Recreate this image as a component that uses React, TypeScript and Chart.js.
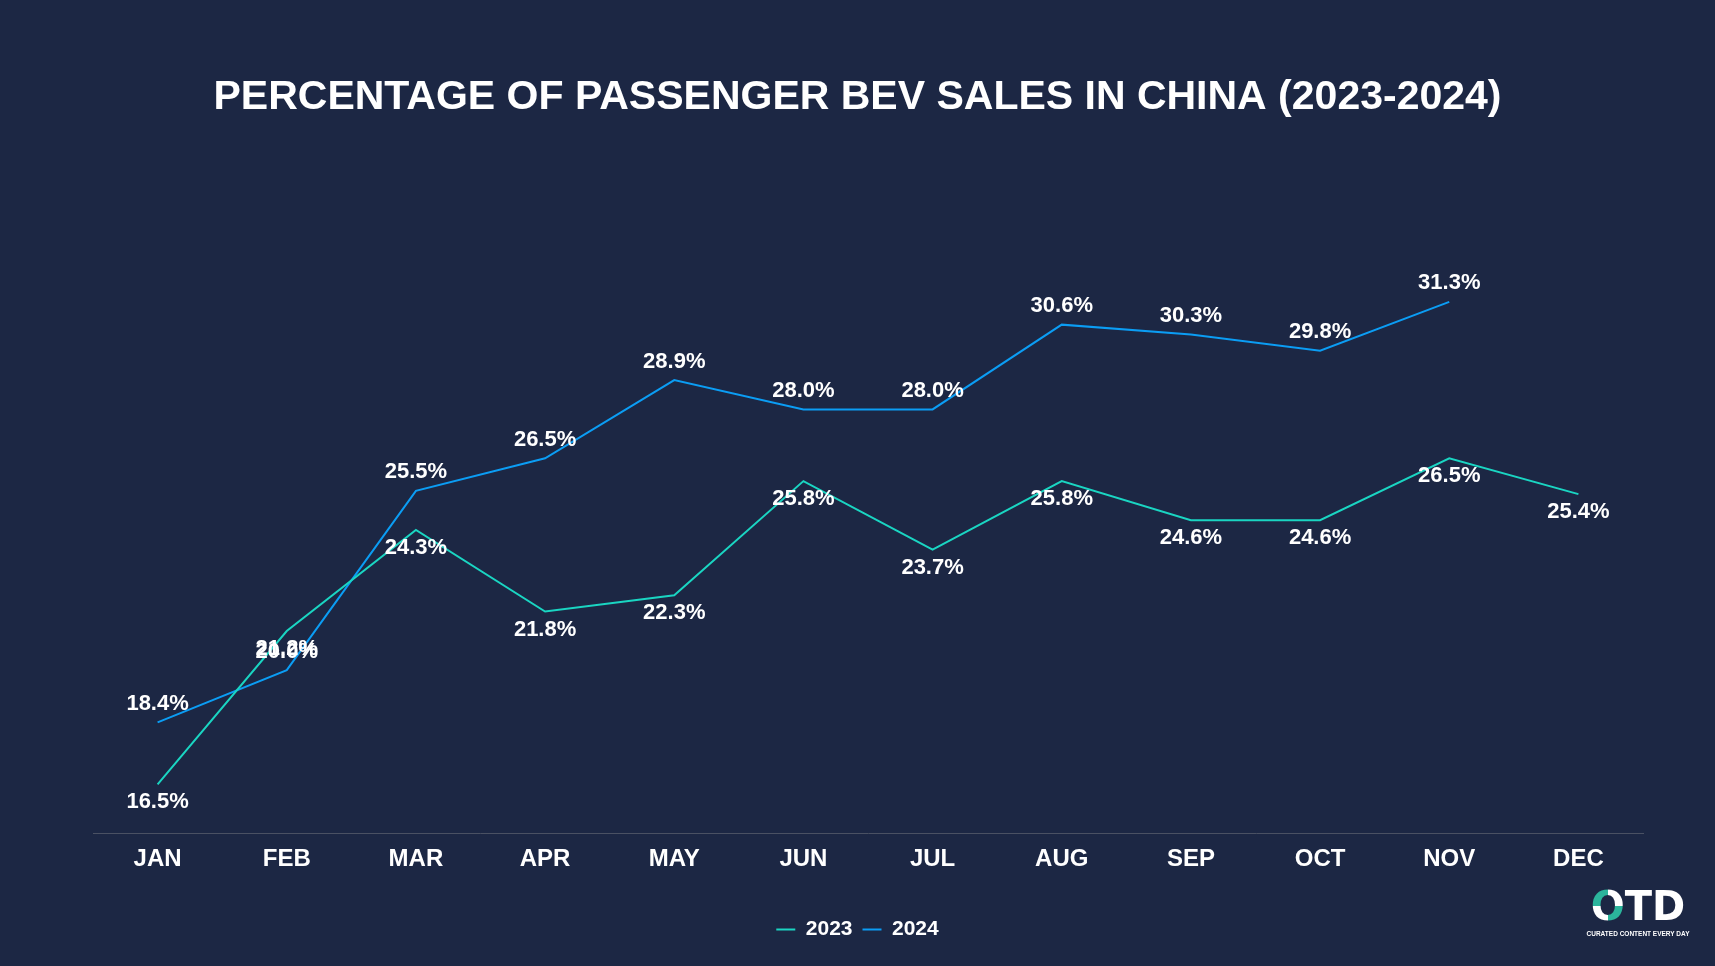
import { useEffect, useRef } from "react";
import { Chart, registerables } from "chart.js";

Chart.register(...registerables);

const months = ["JAN", "FEB", "MAR", "APR", "MAY", "JUN", "JUL", "AUG", "SEP", "OCT", "NOV", "DEC"];
const share2023 = [16.5, 21.2, 24.3, 21.8, 22.3, 25.8, 23.7, 25.8, 24.6, 24.6, 26.5, 25.4];
const share2024 = [18.4, 20.0, 25.5, 26.5, 28.9, 28.0, 28.0, 30.6, 30.3, 29.8, 31.3, null];

const BG = "#1c2744";
const FONT = "'Liberation Sans', Arial, sans-serif";

// draws the value labels: 2023 under its points, 2024 above
const valueLabels = {
  id: "valueLabels",
  afterDatasetsDraw(chart: any) {
    const ctx = chart.ctx;
    ctx.save();
    ctx.font = `bold 22px ${FONT}`;
    ctx.fillStyle = "#ffffff";
    ctx.textAlign = "center";
    ctx.textBaseline = "middle";
    chart.data.datasets.forEach((ds: any, i: number) => {
      const meta = chart.getDatasetMeta(i);
      const off = i === 0 ? 18 : -18.5;
      meta.data.forEach((pt: any, j: number) => {
        const v = ds.data[j];
        if (v === null || v === undefined) return;
        ctx.fillText(v.toFixed(1) + "%", pt.x, pt.y + off);
      });
    });
    ctx.restore();
  },
};

const App = () => {
  const canvasRef = useRef<HTMLCanvasElement | null>(null);

  useEffect(() => {
    if (!canvasRef.current) return;
    const ctx = canvasRef.current.getContext("2d");
    if (!ctx) return;

    const chart = new Chart(ctx, {
      type: "line",
      data: {
        labels: months,
        datasets: [
          {
            label: "2023",
            data: share2023,
            borderColor: "#1ad5c2",
            backgroundColor: "#1ad5c2",
            borderWidth: 2,
            pointRadius: 0,
            tension: 0,
          },
          {
            label: "2024",
            data: share2024,
            borderColor: "#0b9df4",
            backgroundColor: "#0b9df4",
            borderWidth: 2,
            pointRadius: 0,
            tension: 0,
          },
        ],
      },
      options: {
        animation: false,
        responsive: true,
        maintainAspectRatio: false,
        layout: { padding: { top: 0, left: 0, right: 0, bottom: 16 } },
        plugins: {
          title: {
            display: true,
            text: "PERCENTAGE OF PASSENGER BEV SALES IN CHINA (2023-2024)",
            color: "#ffffff",
            font: { family: FONT, size: 41, weight: "bold" },
            padding: { top: 73, bottom: 59 },
          },
          legend: {
            position: "bottom",
            labels: {
              color: "#ffffff",
              font: { family: FONT, size: 21, weight: "bold" },
              usePointStyle: true,
              pointStyle: "line",
              pointStyleWidth: 19,
              padding: 10,
            },
          },
          tooltip: { enabled: false },
        },
        scales: {
          x: {
            offset: true,
            grid: { display: false, drawTicks: false },
            border: { display: true, color: "#4a5163", width: 1 },
            ticks: {
              color: "#ffffff",
              padding: 12,
              font: { family: FONT, size: 24, weight: "bold" },
            },
            afterFit: (s: any) => {
              s.height += 23;
            },
          },
          y: {
            min: 15,
            max: 35,
            grid: { display: false, drawTicks: false },
            border: { display: false },
            ticks: { display: false },
            afterFit: (s: any) => {
              s.width = 93;
            },
          },
          y2: {
            position: "right",
            min: 15,
            max: 35,
            grid: { display: false, drawTicks: false },
            border: { display: false },
            ticks: { display: false },
            afterFit: (s: any) => {
              s.width = 72;
            },
          },
        },
      },
      plugins: [valueLabels],
    });

    return () => {
      chart.destroy();
    };
  }, []);

  return (
    <div style={{ position: "fixed", inset: 0, background: BG, fontFamily: FONT }}>
      <canvas ref={canvasRef}></canvas>
      <div
        style={{
          position: "absolute",
          left: 1584,
          top: 886,
          width: 108,
          textAlign: "center",
          color: "#ffffff",
          fontWeight: "bold",
          lineHeight: 1,
        }}
      >
        <div style={{ fontSize: 40, fontFamily: "'DejaVu Sans', sans-serif", letterSpacing: 0 }}>
          <span
            style={{
              background: "conic-gradient(#ffffff 0deg 90deg, #2bb59c 90deg 180deg, #ffffff 180deg 270deg, #2bb59c 270deg 360deg)",
              WebkitBackgroundClip: "text",
              backgroundClip: "text",
              color: "transparent",
            }}
          >
            O
          </span>
          TD
        </div>
        <div style={{ fontSize: 6.5, marginTop: 5, whiteSpace: "nowrap" }}>CURATED CONTENT EVERY DAY</div>
      </div>
    </div>
  );
};

export default App;
